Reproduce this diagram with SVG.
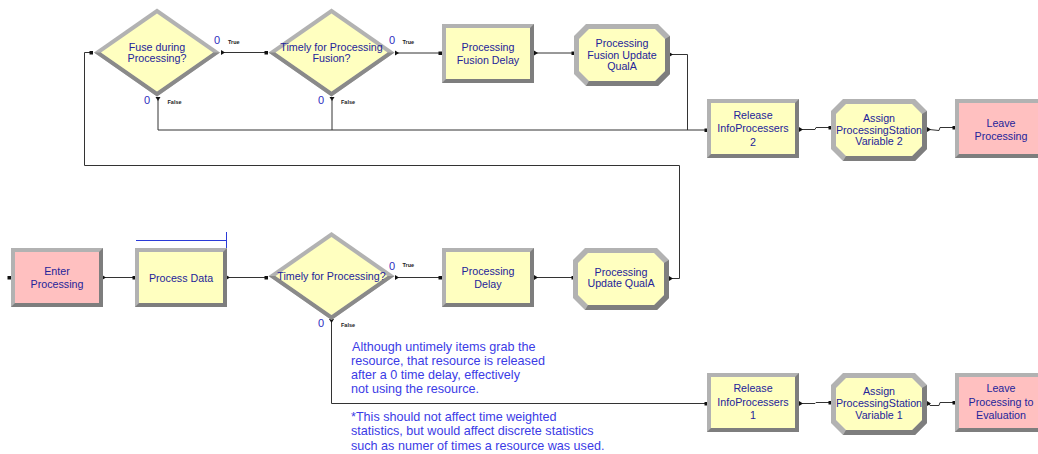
<svg xmlns="http://www.w3.org/2000/svg" xmlns:xlink="http://www.w3.org/1999/xlink" width="1038" height="454" viewBox="0 0 1038 454">
  <style>
    .lbl { font-family: "Liberation Sans", Arial, sans-serif; font-size: 10.7px; fill: #24249a; text-anchor: middle; }
    .cnt { font-family: "Liberation Sans", Arial, sans-serif; font-size: 11px; fill: #2d2dc0; text-anchor: middle; }
    .br  { font-family: "Liberation Sans", Arial, sans-serif; font-size: 5.5px; font-weight: bold; fill: #222; }
    .note { font-family: "Liberation Sans", Arial, sans-serif; font-size: 12.6px; fill: #3b3be6; }
    .wire { fill: none; stroke: #333; stroke-width: 1; }
    .yellow { fill: #ffffc0; }
    .pink { fill: #ffc0c0; }
  </style>
  <defs>
    <!-- beveled process box, inner face takes fill from the use element -->
    <g id="box">
      <rect width="92" height="59" fill="#b2b2b2"/>
      <polygon points="92,0 92,59 0,59 4,55 88,55 88,4" fill="#7e7e7e"/>
      <rect x="4" y="4" width="84" height="51"/>
    </g>
    <!-- beveled octagon (assign / update modules) -->
    <g id="oct">
      <polygon points="12,0 84,0 96,12 96,50 84,62 12,62 0,50 0,12" fill="#b2b2b2"/>
      <polygon points="96,12 96,50 84,62 12,62 15,57 81,57 91,47 91,15" fill="#7e7e7e"/>
      <polygon points="15,5 81,5 91,15 91,47 81,57 15,57 5,47 5,15"/>
    </g>
    <!-- beveled decision diamond, centred on origin -->
    <g id="dia">
      <polygon points="-63,0 0,-44 63,0 0,44" fill="#b2b2b2"/>
      <polygon points="-63,0 0,44 63,0 56,0 0,39 -56,0" fill="#8a8a8a"/>
      <polygon points="-56,0 0,-39 56,0 0,39"/>
    </g>
    <rect id="in" x="-1.5" y="-1.5" width="3.5" height="3.5" fill="#111"/>
    <polygon id="outR" points="0,-2.5 4,0 0,2.5" fill="#111"/>
    <polygon id="outD" points="-2.5,0 2.5,0 0,4" fill="#111"/>
  </defs>

  <!-- connectors -->
  <g id="connectors">
    <!-- top branch -->
    <polyline class="wire" points="223,52.5 266,52.5"/>
    <polyline class="wire" points="397,53 440,53"/>
    <polyline class="wire" points="535,53 573,53"/>
    <polyline class="wire" points="672,54.5 687.5,54.5 687.5,130"/>
    <polyline class="wire" points="158,100 158,130 706,130"/>
    <polyline class="wire" points="332,100 332,130"/>
    <polyline class="wire" points="801,129.5 815,129.5 816,127.5 830,127.5"/>
    <polyline class="wire" points="929,129.5 939,130.5 940,127.5 954,127.5"/>
    <!-- loop back to the fusion decision -->
    <polyline class="wire" points="672,278.5 679.5,278.5 679.5,165.5 84.5,165.5 84.5,52.5 91,52.5"/>
    <!-- bottom branch -->
    <polyline class="wire" points="104,277.5 134,277.5"/>
    <polyline class="wire" points="228,277.5 266,277.5"/>
    <polyline class="wire" points="397,277.5 440,277.5"/>
    <polyline class="wire" points="535,277.5 573,277.5"/>
    <polyline class="wire" points="331.5,322 331.5,403.5 706,403.5"/>
    <polyline class="wire" points="801,403.5 815,403.5 816,402.5 830,402.5"/>
    <polyline class="wire" points="929,403.5 930,405.5 939,405.5 940,402.5 954,402.5"/>
    <!-- entry points -->
    <use xlink:href="#in" x="91" y="52.5"/>
    <use xlink:href="#in" x="266" y="52.5"/>
    <use xlink:href="#in" x="440" y="53"/>
    <use xlink:href="#in" x="573" y="53"/>
    <use xlink:href="#in" x="706" y="130"/>
    <use xlink:href="#in" x="830" y="127.5"/>
    <use xlink:href="#in" x="954" y="127.5"/>
    <use xlink:href="#in" x="9" y="277.5"/>
    <use xlink:href="#in" x="134" y="277.5"/>
    <use xlink:href="#in" x="266" y="277.5"/>
    <use xlink:href="#in" x="440" y="277.5"/>
    <use xlink:href="#in" x="573" y="277.5"/>
    <use xlink:href="#in" x="706" y="403.5"/>
    <use xlink:href="#in" x="830" y="402.5"/>
    <use xlink:href="#in" x="954" y="402.5"/>
    <!-- exit points -->
    <use xlink:href="#outR" x="221" y="52.5"/>
    <use xlink:href="#outR" x="395" y="53"/>
    <use xlink:href="#outR" x="534" y="53"/>
    <use xlink:href="#outR" x="669" y="54.5"/>
    <use xlink:href="#outR" x="799" y="129.5"/>
    <use xlink:href="#outR" x="927" y="129.5"/>
    <use xlink:href="#outR" x="102" y="277.5"/>
    <use xlink:href="#outR" x="226" y="277.5"/>
    <use xlink:href="#outR" x="395" y="277.5"/>
    <use xlink:href="#outR" x="534" y="277.5"/>
    <use xlink:href="#outR" x="669" y="278.5"/>
    <use xlink:href="#outR" x="799" y="403.5"/>
    <use xlink:href="#outR" x="927" y="403.5"/>
    <use xlink:href="#outD" x="158" y="97"/>
    <use xlink:href="#outD" x="332" y="97"/>
    <use xlink:href="#outD" x="331.5" y="319"/>
  </g>

  <!-- decisions -->
  <g id="fuse-during-processing">
    <use xlink:href="#dia" x="157" y="52.5" class="yellow"/>
    <text class="lbl" x="157" y="50.5">Fuse during</text>
    <text class="lbl" x="157" y="62">Processing?</text>
    <text class="cnt" x="217" y="43.5">0</text>
    <text class="br" x="228" y="44">True</text>
    <text class="cnt" x="147" y="103.5">0</text>
    <text class="br" x="167.5" y="103.5">False</text>
  </g>
  <g id="timely-fusion">
    <use xlink:href="#dia" x="331.5" y="52.5" class="yellow"/>
    <text class="lbl" x="331.5" y="50.5">Timely for Processing</text>
    <text class="lbl" x="331.5" y="62">Fusion?</text>
    <text class="cnt" x="392" y="43.5">0</text>
    <text class="br" x="402.5" y="44">True</text>
    <text class="cnt" x="321" y="103.5">0</text>
    <text class="br" x="341" y="103.5">False</text>
  </g>
  <g id="timely-processing">
    <use xlink:href="#dia" x="331.5" y="276" class="yellow"/>
    <text class="lbl" x="331.5" y="279.5">Timely for Processing?</text>
    <text class="cnt" x="392" y="269.5">0</text>
    <text class="br" x="402.5" y="267">True</text>
    <text class="cnt" x="321" y="327">0</text>
    <text class="br" x="341" y="326.5">False</text>
  </g>

  <!-- top row modules -->
  <g id="processing-fusion-delay">
    <use xlink:href="#box" x="442" y="24" class="yellow"/>
    <text class="lbl" x="488" y="51">Processing</text>
    <text class="lbl" x="488" y="63.5">Fusion Delay</text>
  </g>
  <g id="processing-fusion-update-quala">
    <use xlink:href="#oct" x="574" y="24" class="yellow"/>
    <text class="lbl" x="622" y="47">Processing</text>
    <text class="lbl" x="622" y="58.5">Fusion Update</text>
    <text class="lbl" x="622" y="70">QualA</text>
  </g>
  <g id="release-infoprocessers-2">
    <use xlink:href="#box" x="707" y="99" class="yellow"/>
    <text class="lbl" x="753" y="118.5">Release</text>
    <text class="lbl" x="753" y="132">InfoProcessers</text>
    <text class="lbl" x="753" y="145.5">2</text>
  </g>
  <g id="assign-station-2">
    <use xlink:href="#oct" x="831" y="99" class="yellow"/>
    <text class="lbl" x="879" y="121.5">Assign</text>
    <text class="lbl" x="879" y="133.5">ProcessingStation</text>
    <text class="lbl" x="879" y="145">Variable 2</text>
  </g>
  <g id="leave-processing">
    <use xlink:href="#box" x="955" y="99" class="pink"/>
    <text class="lbl" x="1001" y="126.5">Leave</text>
    <text class="lbl" x="1001" y="139.5">Processing</text>
  </g>

  <!-- bottom row modules -->
  <g id="enter-processing">
    <use xlink:href="#box" x="11" y="248" class="pink"/>
    <text class="lbl" x="57" y="274.5">Enter</text>
    <text class="lbl" x="57" y="287.5">Processing</text>
  </g>
  <g id="process-data">
    <use xlink:href="#box" x="135" y="248" class="yellow"/>
    <text class="lbl" x="181" y="281.5">Process Data</text>
    <polyline points="136,240.5 226.5,240.5 226.5,232 226.5,248" fill="none" stroke="#2a3ad8" stroke-width="1"/>
  </g>
  <g id="processing-delay">
    <use xlink:href="#box" x="442" y="248" class="yellow"/>
    <text class="lbl" x="488" y="275">Processing</text>
    <text class="lbl" x="488" y="287.5">Delay</text>
  </g>
  <g id="processing-update-quala">
    <use xlink:href="#oct" x="573" y="248" class="yellow"/>
    <text class="lbl" x="621" y="276">Processing</text>
    <text class="lbl" x="621" y="287">Update QualA</text>
  </g>
  <g id="release-infoprocessers-1">
    <use xlink:href="#box" x="707" y="373" class="yellow"/>
    <text class="lbl" x="753" y="391.5">Release</text>
    <text class="lbl" x="753" y="405.5">InfoProcessers</text>
    <text class="lbl" x="753" y="419">1</text>
  </g>
  <g id="assign-station-1">
    <use xlink:href="#oct" x="831" y="373" class="yellow"/>
    <text class="lbl" x="879" y="395">Assign</text>
    <text class="lbl" x="879" y="407">ProcessingStation</text>
    <text class="lbl" x="879" y="418.5">Variable 1</text>
  </g>
  <g id="leave-to-evaluation">
    <use xlink:href="#box" x="955" y="373" class="pink"/>
    <text class="lbl" x="1001" y="391.5">Leave</text>
    <text class="lbl" x="1001" y="405.5">Processing to</text>
    <text class="lbl" x="1001" y="419">Evaluation</text>
  </g>

  <!-- annotations -->
  <g id="notes">
    <text class="note" x="352" y="351">Although untimely items grab the</text>
    <text class="note" x="351" y="365">resource, that resource is released</text>
    <text class="note" x="351" y="379">after a 0 time delay, effectively</text>
    <text class="note" x="351" y="393">not using the resource.</text>
    <text class="note" x="351" y="420.5">*This should not affect time weighted</text>
    <text class="note" x="351" y="435">statistics, but would affect discrete statistics</text>
    <text class="note" x="351" y="449.5">such as numer of times a resource was used.</text>
  </g>
</svg>
